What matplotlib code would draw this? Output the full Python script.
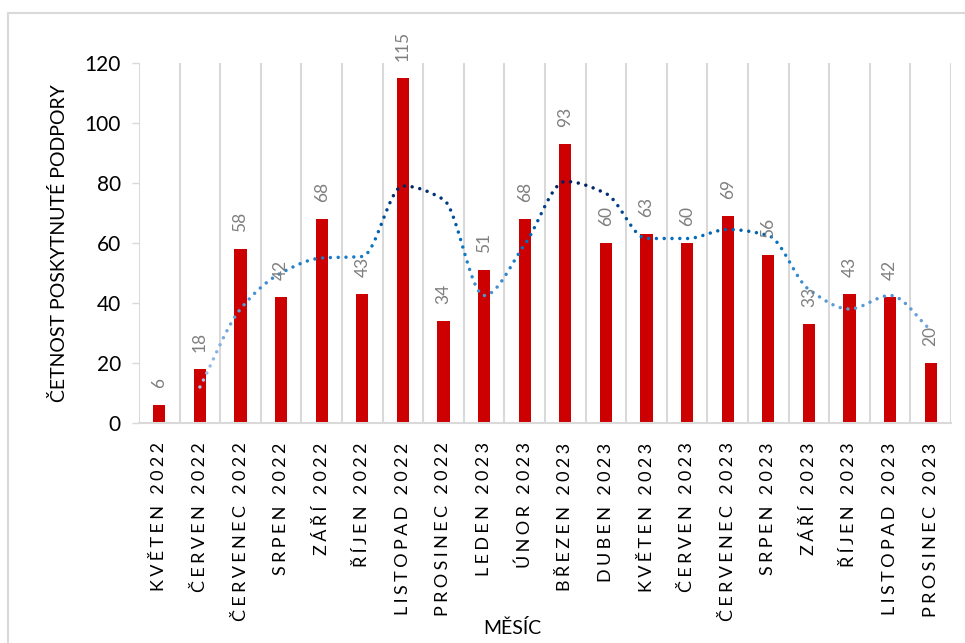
import numpy as np
import pandas as pd
import matplotlib
matplotlib.use("Agg")
from matplotlib import pyplot as plt
from matplotlib.colors import LinearSegmentedColormap
from matplotlib.lines import Line2D

months = ["KVĚTEN 2022", "ČERVEN 2022", "ČERVENEC 2022", "SRPEN 2022", "ZÁŘÍ 2022",
          "ŘÍJEN 2022", "LISTOPAD 2022", "PROSINEC 2022", "LEDEN 2023", "ÚNOR 2023",
          "BŘEZEN 2023", "DUBEN 2023", "KVĚTEN 2023", "ČERVEN 2023", "ČERVENEC 2023",
          "SRPEN 2023", "ZÁŘÍ 2023", "ŘÍJEN 2023", "LISTOPAD 2023", "PROSINEC 2023"]
counts = [6, 18, 58, 42, 68, 43, 115, 34, 51, 68, 93, 60, 63, 60, 69, 56, 33, 43, 42, 20]
y_ticks = [0, 20, 40, 60, 80, 100, 120]

plt.rcParams['font.family'] = ['Lato', 'DejaVu Sans']

W, H = 965, 643
fig = plt.figure(figsize=(W / 100, H / 100), dpi=100)
ax = fig.add_axes([139 / W, (H - 423) / H, (951 - 139) / W, 360 / H])

x = np.arange(len(counts))
ax.bar(x, counts, width=0.3, color='#CC0000', zorder=2)

# value labels
for xi, v in zip(x, counts):
    ax.annotate(str(v), xy=(xi, v), xytext=(0, 12), textcoords='offset points',
                rotation=90, ha='center', va='bottom', fontsize=12.5, color='#7F7F7F',
                zorder=4)

ax.set_xlim(-0.5, len(counts) - 0.5)
ax.set_ylim(0, 120)
ax.set_yticks(y_ticks)
ax.tick_params(axis='y', length=5, width=1, color='#D9D9D9', labelsize=15, pad=8)

# letter spaced month labels
gap = '\u2009\u200a'
spaced = [gap.join(list(m)) for m in months]
ax.set_xticks(x)
ax.set_xticklabels(spaced, rotation=90, fontsize=13, va='top', ha='center')
ax.tick_params(axis='x', length=0, pad=14)

# vertical gridlines on category boundaries
ax.set_xticks(np.arange(len(counts) + 1) - 0.5, minor=True)
ax.tick_params(axis='x', which='minor', length=0)
ax.grid(axis='x', which='minor', color='#D9D9D9', linewidth=1.5, zorder=0)
ax.grid(axis='x', which='major', visible=False)

for s in ['top', 'right', 'left']:
    ax.spines[s].set_visible(False)
ax.spines['bottom'].set_color('#D9D9D9')
ax.spines['bottom'].set_linewidth(1.5)

ax.set_ylabel('ČETNOST POSKYTNUTÉ PODPORY', fontsize=14, labelpad=12)
fig.text(512 / W, 1 - 628 / H, 'MĚSÍC', fontsize=14, ha='center', va='center')

# moving average trend (period 2), drawn as a smoothed dotted line
ma = pd.Series(counts).rolling(2).mean().dropna()
mx = ma.index.values.astype(float)
my = ma.values


def pchip(xs, ys, n=40):
    h = np.diff(xs)
    dl = np.diff(ys) / h
    m = np.zeros_like(ys)
    for i in range(1, len(ys) - 1):
        if dl[i - 1] * dl[i] > 0:
            m[i] = 2 / (1 / dl[i - 1] + 1 / dl[i])
    m[0], m[-1] = dl[0], dl[-1]
    cx, cy = [], []
    for i in range(len(xs) - 1):
        t = np.linspace(0, 1, n, endpoint=False)
        h00 = 2 * t ** 3 - 3 * t ** 2 + 1
        h10 = t ** 3 - 2 * t ** 2 + t
        h01 = -2 * t ** 3 + 3 * t ** 2
        h11 = t ** 3 - t ** 2
        cx.append(xs[i] + t * h[i])
        cy.append(h00 * ys[i] + h10 * h[i] * m[i] + h01 * ys[i + 1] + h11 * h[i] * m[i + 1])
    cx.append([xs[-1]])
    cy.append([ys[-1]])
    return np.concatenate(cx), np.concatenate(cy)


cx, cy = pchip(mx, my)
disp = ax.transData.transform(np.column_stack([cx, cy]))
d = np.r_[0, np.cumsum(np.hypot(*np.diff(disp, axis=0).T))]
targets = np.arange(0, d[-1], 7.8)
dots = np.column_stack([np.interp(targets, d, disp[:, 0]), np.interp(targets, d, disp[:, 1])])
dots = ax.transData.inverted().transform(dots)

cmap = LinearSegmentedColormap.from_list('trend', [(0, '#A9C4EB'), (0.4, '#5B9BD5'),
                                                  (0.72, '#0070C0'), (1, '#002060')])
ax.scatter(dots[:, 0], dots[:, 1], c=dots[:, 1], cmap=cmap, vmin=12, vmax=80,
           s=6, linewidths=0, zorder=3)

# chart area border
fig.add_artist(Line2D([8 / W, 1], [1 - 13 / H, 1 - 13 / H], color='#D9D9D9', lw=1.5))
fig.add_artist(Line2D([8 / W, 8 / W], [0, 1 - 13 / H], color='#D9D9D9', lw=1.5))

fig.savefig('out.png', dpi=100)
